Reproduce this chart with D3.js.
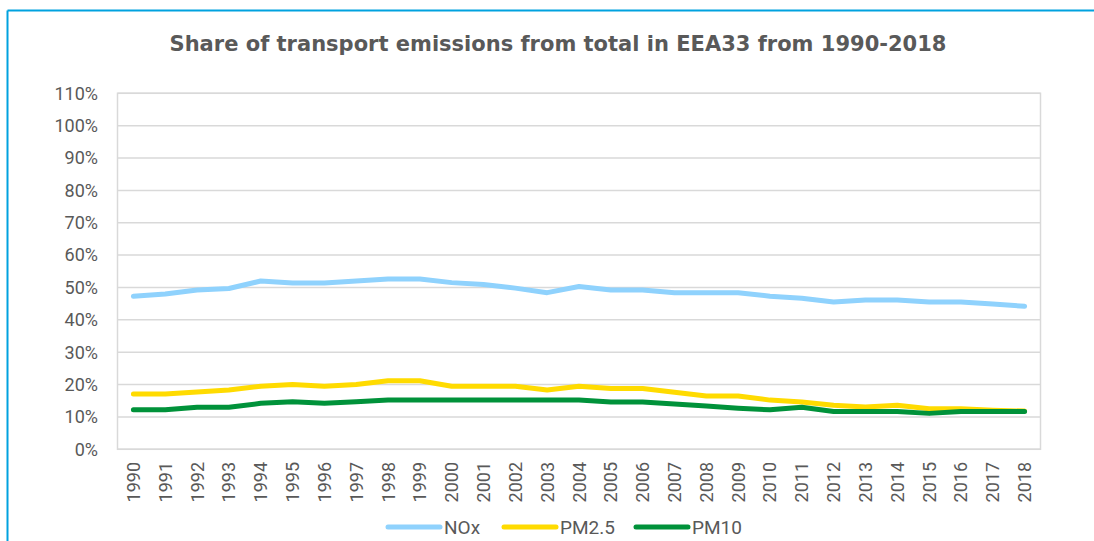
<!DOCTYPE html>
<html>
<head>
<meta charset="utf-8">
<script src="https://cdn.jsdelivr.net/npm/d3@7"></script>
<style>
  body { margin: 0; background: #fff; }
  svg { display: block; }
  text { fill: #595959; }
</style>
</head>
<body>
<svg id="chart"></svg>
<script>
const years = d3.range(1990, 2019).map(String)

const nox = [47.3, 48.0, 49.2, 49.7, 52.0, 51.4, 51.4, 52.0, 52.6, 52.6, 51.5, 50.9, 49.8, 48.4, 50.3,
    49.2, 49.2, 48.4, 48.4, 48.4, 47.3, 46.7, 45.5, 46.1, 46.1, 45.5, 45.5, 44.9, 44.2]
const pm25 = [17.1, 17.1, 17.7, 18.3, 19.5, 20.0, 19.5, 20.0, 21.2, 21.2, 19.5, 19.5, 19.5, 18.3, 19.5,
    18.8, 18.8, 17.6, 16.5, 16.5, 15.2, 14.6, 13.6, 13.1, 13.6, 12.5, 12.5, 12.1, 11.8]
const pm10 = [12.2, 12.2, 13.0, 13.0, 14.2, 14.7, 14.2, 14.7, 15.2, 15.2, 15.2, 15.2, 15.2, 15.2, 15.2,
    14.6, 14.6, 14.0, 13.4, 12.7, 12.2, 13.0, 11.7, 11.7, 11.7, 11.1, 11.7, 11.7, 11.7]

const seriesNames = ['NOx', 'PM2.5', 'PM10']
const seriesColors = ['#8fd2fd', '#ffdb00', '#00923a']
const yTicks = d3.range(0, 111, 10)

const width = 1094, height = 541
const margin = { top: 93.3, right: 53.5, bottom: 91.7, left: 117.5 }

const svg = d3.select('#chart')
    .attr('width', width)
    .attr('height', height)

// outer frame (blue, top + left only visible)
svg.append('line')
    .attr('x1', 7.5).attr('x2', width).attr('y1', 10.5).attr('y2', 10.5)
    .attr('stroke', '#00a2df').attr('stroke-width', 2)
svg.append('line')
    .attr('x1', 7.5).attr('x2', 7.5).attr('y1', 10.5).attr('y2', height)
    .attr('stroke', '#00a2df').attr('stroke-width', 2)

svg.append('text')
    .attr('x', 558)
    .attr('y', 51)
    .attr('text-anchor', 'middle')
    .style('font-family', '"DejaVu Sans", sans-serif')
    .style('font-weight', 'bold')
    .style('font-size', '21px')
    .text('Share of transport emissions from total in EEA33 from 1990-2018')

const x = d3.scaleBand()
    .domain(years)
    .range([margin.left, width - margin.right])

const y = d3.scaleLinear()
    .domain([0, 110])
    .range([height - margin.bottom, margin.top])

// grid
svg.append('g')
    .selectAll('line')
    .data(yTicks)
    .join('line')
    .attr('x1', margin.left)
    .attr('x2', width - margin.right)
    .attr('y1', d => y(d))
    .attr('y2', d => y(d))
    .attr('stroke', '#d9d9d9')
    .attr('stroke-width', 1.5)

svg.append('rect')
    .attr('x', margin.left)
    .attr('y', y(110))
    .attr('width', width - margin.right - margin.left)
    .attr('height', y(0) - y(110))
    .attr('fill', 'none')
    .attr('stroke', '#d9d9d9')
    .attr('stroke-width', 1.5)

// y labels
svg.append('g')
    .selectAll('text')
    .data(yTicks)
    .join('text')
    .attr('x', 98)
    .attr('y', d => y(d) + 6.3)
    .attr('text-anchor', 'end')
    .style('font-family', 'Roboto, sans-serif')
    .style('font-size', '18px')
    .text(d => d + '%')

// x labels
svg.append('g')
    .selectAll('text')
    .data(years)
    .join('text')
    .attr('transform', d => `translate(${x(d) + x.bandwidth() / 2 + 6.5},462) rotate(-90)`)
    .attr('text-anchor', 'end')
    .style('font-family', 'Roboto, sans-serif')
    .style('font-size', '18px')
    .text(d => d)

const line = d3.line()
    .x((d, i) => x(years[i]) + x.bandwidth() / 2)
    .y(d => y(d))

svg.append('g')
    .selectAll('path')
    .data([nox, pm25, pm10])
    .join('path')
    .attr('d', line)
    .attr('fill', 'none')
    .attr('stroke', (d, i) => seriesColors[i])
    .attr('stroke-width', 5)
    .attr('stroke-linejoin', 'round')
    .attr('stroke-linecap', 'round')

// legend
const legendX = [388, 504, 636]
const legend = svg.append('g')
    .selectAll('g')
    .data(seriesNames)
    .join('g')
    .attr('transform', (d, i) => `translate(${legendX[i]},527)`)

legend.append('line')
    .attr('x1', 0).attr('x2', 52)
    .attr('stroke', (d, i) => seriesColors[i])
    .attr('stroke-width', 5)
    .attr('stroke-linecap', 'round')

legend.append('text')
    .attr('x', 56)
    .attr('y', 7)
    .style('font-family', 'Roboto, sans-serif')
    .style('font-size', '19px')
    .text(d => d)
</script>
</body>
</html>
